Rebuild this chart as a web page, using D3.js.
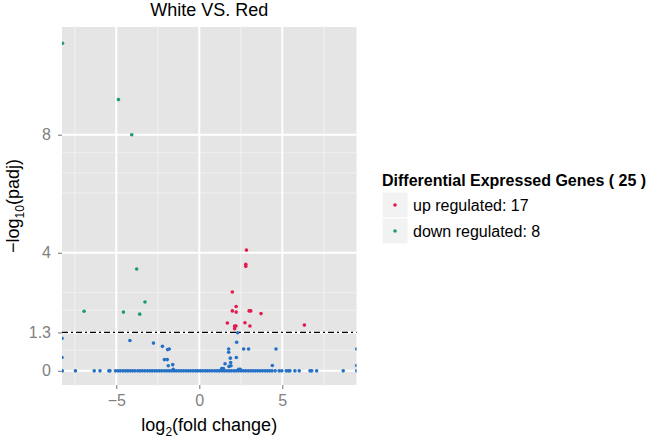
<!DOCTYPE html>
<html lang="en">
<head>
<meta charset="UTF-8">
<title>White VS. Red</title>
<style>
  body { margin: 0; background: #fff; }
  text { font-family: "Liberation Sans", Arial, Helvetica, sans-serif; }
  .axis .tick text { fill: #7f7f7f; font-size: 16px; }
  .axis .tick line { stroke: #7f7f7f; stroke-width: 1.1px; }
  .axis .domain { display: none; }
</style>
</head>
<body>
<svg width="657" height="438"></svg>
<script src="https://d3js.org/d3.v7.min.js"></script>
<script>
// up regulated genes: log2(fold change), -log10(padj)
const upFC   = [2.84, 2.80, 2.80, 1.99, 2.22, 1.99, 2.22, 3.00, 3.10, 3.72, 1.69, 2.75, 3.05, 2.13, 2.21, 2.13, 6.33];
const upP    = [4.09, 3.61, 3.54, 2.67, 2.18, 2.03, 1.99, 2.03, 2.03, 1.94, 1.62, 1.63, 1.52, 1.52, 1.52, 1.43, 1.55];

// down regulated genes
const downFC = [-8.24, -4.87, -4.07, -6.94, -3.77, -4.57, -3.59, -3.27];
const downP  = [11.1, 9.19, 8.0, 2.02, 3.45, 1.99, 1.92, 2.33];

// not significant genes above zero
const nsFC = [-8.27, -8.27, -4.18, -2.76, -2.22, -1.91, -1.81, -2.10, -1.93, -1.87, -1.60, -1.57,
              1.35, 1.45, 1.55, 1.77, 1.77, 1.87, 1.89, 1.79, 1.91, 2.25, 2.31, 2.23, 2.67, 2.97,
              2.37, 2.47, 4.62, 4.40, 9.48, 9.48];
const nsP  = [1.10, 0.45, 1.03, 0.94, 0.83, 0.72, 0.74, 0.38, 0.38, 0.17, 0.21, 0.05,
              0.08, 0.08, 0.24, 0.74, 0.63, 0.43, 0.28, 0.15, 0.17, 0.97, 1.29, 0.45, 0.74, 0.74,
              0.05, 0.05, 0.74, 0.18, 0.74, 0.18];

// not significant genes with -log10(padj) of about 0
const zeroFC = [-8.25, -7.46, -6.33, -5.98, -5.45, -5.38,
  -5.05, -4.9, -4.76, -4.6, -4.45, -4.31, -4.17, -4.02, -3.88, -3.71, -3.57, -3.43, -3.28, -3.12,
  -2.98, -2.84, -2.69, -2.55, -2.4, -2.26, -2.1, -1.96, -1.82, -1.67, -1.52, -1.38, -1.24, -1.1,
  -0.95, -0.8, -0.66, -0.52, -0.37, -0.22, -0.08, 0.06, 0.2, 0.35, 0.49, 0.63, 0.78, 0.93, 1.07,
  1.21, 1.36, 1.5, 1.64, 1.79, 1.93, 2.08, 2.22, 2.36, 2.51, 2.66, 2.8, 2.95, 3.09, 3.23, 3.38,
  3.52, 3.67, 3.81, 3.96, 4.1, 4.24, 4.38,
  4.57, 4.81, 4.97, 5.24, 5.36, 5.46, 5.76, 6.02, 6.67, 6.77, 7.07, 8.67, 9.48];

const xTicks = [-5, 0, 5];
const xMinor = [-7.5, -2.5, 2.5, 7.5];
const yTicks = [0, 1.3, 4, 8];
const yMinor = [0.7, 2.05, 2.65, 6.03, 6.71, 7.39];
const threshold = 1.3;

const legendLabels = ["up regulated: 17", "down regulated: 8"];
const legendColors = ["#e3194b", "#1b9a6f"];
const nsColor = "#2470c6";

const panel = { left: 62, right: 356.5, top: 27, bottom: 385 };

const svg = d3.select("svg");

const x = d3.scaleLinear().domain([-8.27, 9.47]).range([panel.left, panel.right]);
const y = d3.scaleLinear().domain([-0.48, 11.65]).range([panel.bottom, panel.top]);

svg.append("clipPath").attr("id", "clip")
  .append("rect")
    .attr("x", panel.left).attr("y", panel.top)
    .attr("width", panel.right - panel.left).attr("height", panel.bottom - panel.top);

// panel background
svg.append("rect")
  .attr("x", panel.left).attr("y", panel.top)
  .attr("width", panel.right - panel.left).attr("height", panel.bottom - panel.top)
  .attr("fill", "#e5e5e5");

// grid lines
const grid = svg.append("g");
grid.selectAll(".vminor").data(xMinor).join("line")
  .attr("x1", d => x(d)).attr("x2", d => x(d))
  .attr("y1", panel.top).attr("y2", panel.bottom)
  .attr("stroke", "#f2f2f2").attr("stroke-width", 1);
grid.selectAll(".hminor").data(yMinor).join("line")
  .attr("y1", d => y(d)).attr("y2", d => y(d))
  .attr("x1", panel.left).attr("x2", panel.right)
  .attr("stroke", "#f0f0f0").attr("stroke-width", 1);
grid.selectAll(".vmajor").data(xTicks).join("line")
  .attr("x1", d => x(d)).attr("x2", d => x(d))
  .attr("y1", panel.top).attr("y2", panel.bottom)
  .attr("stroke", "#fff").attr("stroke-width", 2);
grid.selectAll(".hmajor").data(yTicks).join("line")
  .attr("y1", d => y(d)).attr("y2", d => y(d))
  .attr("x1", panel.left).attr("x2", panel.right)
  .attr("stroke", "#fff").attr("stroke-width", 2);

// points
const pts = svg.append("g").attr("clip-path", "url(#clip)");
const r = 1.8;

pts.selectAll(".zero").data(zeroFC).join("circle")
  .attr("cx", d => x(d)).attr("cy", y(0)).attr("r", r).attr("fill", nsColor);
pts.selectAll(".ns").data(nsFC).join("circle")
  .attr("cx", d => x(d)).attr("cy", (d, i) => y(nsP[i])).attr("r", r).attr("fill", nsColor);
pts.selectAll(".up").data(upFC).join("circle")
  .attr("cx", d => x(d)).attr("cy", (d, i) => y(upP[i])).attr("r", r).attr("fill", legendColors[0]);
pts.selectAll(".down").data(downFC).join("circle")
  .attr("cx", d => x(d)).attr("cy", (d, i) => y(downP[i])).attr("r", r).attr("fill", legendColors[1]);

// padj = 0.05 threshold
svg.append("line")
  .attr("x1", panel.left).attr("x2", panel.right)
  .attr("y1", y(threshold)).attr("y2", y(threshold))
  .attr("stroke", "#000").attr("stroke-width", 1.2)
  .attr("stroke-dasharray", "6,3,2,3");

// axes
const fmt = d => d < 0 ? "\u2212" + Math.abs(d) : String(d);

svg.append("g").attr("class", "axis")
  .attr("transform", `translate(0,${panel.bottom})`)
  .call(d3.axisBottom(x).tickValues(xTicks).tickSize(4).tickPadding(6).tickFormat(fmt));

svg.append("g").attr("class", "axis")
  .attr("transform", `translate(${panel.left},0)`)
  .call(d3.axisLeft(y).tickValues(yTicks).tickSize(4).tickPadding(7).tickFormat(fmt));

// titles
svg.append("text")
  .attr("x", (panel.left + panel.right) / 2).attr("y", 16)
  .attr("text-anchor", "middle").attr("font-size", 18)
  .text("White VS. Red");

const xt = svg.append("text")
  .attr("x", (panel.left + panel.right) / 2).attr("y", 431)
  .attr("text-anchor", "middle").attr("font-size", 18);
xt.append("tspan").text("log");
xt.append("tspan").attr("font-size", 12).attr("dy", 5).text("2");
xt.append("tspan").attr("dy", -5).text("(fold change)");

const yt = svg.append("text")
  .attr("transform", `translate(19,${(panel.top + panel.bottom) / 2}) rotate(-90)`)
  .attr("text-anchor", "middle").attr("font-size", 18);
yt.append("tspan").text("\u2212log");
yt.append("tspan").attr("font-size", 12).attr("dy", 5).text("10");
yt.append("tspan").attr("dy", -5).text("(padj)");

// legend
const lg = svg.append("g").attr("transform", "translate(382,0)");
lg.append("text")
  .attr("x", 0).attr("y", 186)
  .attr("font-size", 16).attr("font-weight", "bold")
  .text("Differential Expressed Genes ( 25 )");

const key = 26;
const keys = lg.selectAll(".key").data(legendLabels).join("g")
  .attr("transform", (d, i) => `translate(0,${192 + i * key})`);
keys.append("rect")
  .attr("width", key).attr("height", key)
  .attr("fill", "#f2f2f2").attr("stroke", "#fff").attr("stroke-width", 1);
keys.append("circle")
  .attr("cx", key / 2).attr("cy", key / 2).attr("r", r)
  .attr("fill", (d, i) => legendColors[i]);
keys.append("text")
  .attr("x", key + 5).attr("y", key / 2 + 5.5)
  .attr("font-size", 16)
  .text(d => d);
</script>
</body>
</html>
